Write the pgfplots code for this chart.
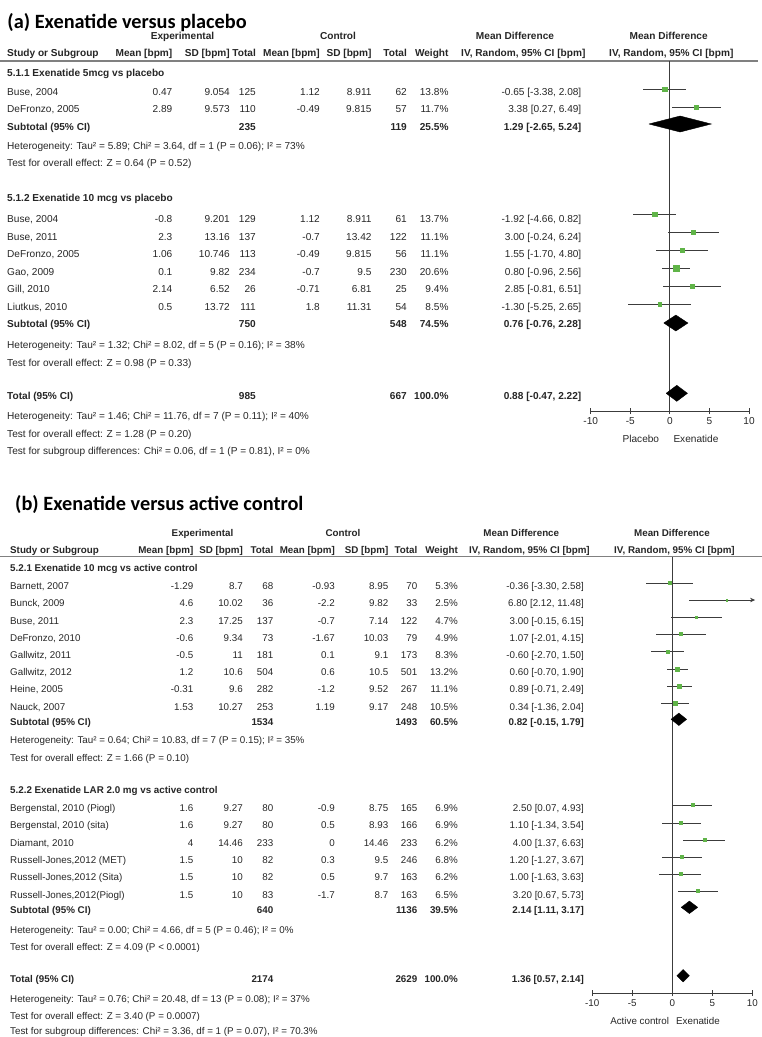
\documentclass[border=0pt]{standalone}
\usepackage{pgfplots}
\pgfplotsset{compat=1.18}
\usepackage{pgfplotstable}
\usepackage{fontspec}
\setmainfont{Liberation Sans}
\newfontfamily\titlefont{Carlito}
\usetikzlibrary{arrows.meta}
\definecolor{mkgreen}{RGB}{96,180,72}
\definecolor{txt}{RGB}{38,38,38}
\definecolor{ln}{RGB}{60,60,60}

% forest data: md lo hi y(row, -px) weight
\pgfplotstableread{
md lo hi y w
-0.65 -3.38 2.08 -89 13.8
3.38 0.27 6.49 -107 11.7
-1.92 -4.66 0.82 -214.3 13.7
3.00 -0.24 6.24 -232.3 11.1
1.55 -1.70 4.80 -250.3 11.1
0.80 -0.96 2.56 -268.3 20.6
2.85 -0.81 6.51 -286 9.4
-1.30 -5.25 2.65 -304 8.5
}\studA

\pgfplotstableread{
md lo hi y w
-0.36 -3.30 2.58 -583 5.3
6.80 2.12 11.48 -600 2.5
3.00 -0.15 6.15 -617 4.7
1.07 -2.01 4.15 -634 4.9
-0.60 -2.70 1.50 -651.7 8.3
0.60 -0.70 1.90 -669 13.2
0.89 -0.71 2.49 -686 11.1
0.34 -1.36 2.04 -703 10.5
2.50 0.07 4.93 -805 6.9
1.10 -1.34 3.54 -823 6.9
4.00 1.37 6.63 -840 6.2
1.20 -1.27 3.67 -857 6.8
1.00 -1.63 3.63 -874 6.2
3.20 0.67 5.73 -891 6.5
}\studB

\newcommand\fa{\fontsize{10.1}{12}\selectfont}
\newcommand\fb{\fontsize{9.8}{12}\selectfont}
\newcommand\cols[8]{\def\cA{#1}\def\cB{#2}\def\cC{#3}\def\cD{#4}\def\cE{#5}\def\cF{#6}\def\cG{#7}\def\cH{#8}}
\newcommand\rowd[9]{%
  \node[R] at (\cA,#1) {#2};\node[R] at (\cB,#1) {#3};\node[R] at (\cC,#1) {#4};%
  \node[R] at (\cD,#1) {#5};\node[R] at (\cE,#1) {#6};\node[R] at (\cF,#1) {#7};%
  \node[R] at (\cG,#1) {#8};\node[R] at (\cH,#1) {#9};}

\tikzset{
  L/.style={anchor=base west, inner sep=0pt, text=txt},
  R/.style={anchor=base east, inner sep=0pt, text=txt},
  C/.style={anchor=base, inner sep=0pt, text=txt},
  rule/.style={draw=black!50, line width=1.2pt}
}

\pgfplotsset{forest/.style={
  scale only axis, clip=false,
  xmin=-10, xmax=10,
  axis x line=bottom, axis y line=none,
  x axis line style={-, draw=ln, line width=0.8pt},
  xtick={-10,-5,0,5,10}, xticklabels={-10,-5,0,5,10},
  tick align=center, major tick length=6pt,
  every tick/.style={draw=ln, line width=0.8pt},
  extra x ticks={0}, extra x tick labels={},
  extra x tick style={grid=major, major grid style={draw=ln, line width=0.8pt}},
  xticklabel style={text=txt},
}}

\begin{document}
\begin{tikzpicture}[x=1pt,y=-1pt]
\useasboundingbox (0,0) rectangle (762,1037);

% ================= Panel (a) =================
\node[L, text=black] at (7.3,28) {\titlefont\bfseries\fontsize{20.3}{24}\selectfont (a) Exenatide versus placebo};
\begin{scope}[every node/.append style={font=\fa}]
\cols{172.5}{230}{256}{320}{371.7}{407}{448.7}{581.5}
\node[C] at (182.5,39.6) {\bfseries Experimental};
\node[C] at (338,39.6) {\bfseries Control};
\node[C] at (515,39.6) {\bfseries Mean Difference};
\node[C] at (668.7,39.6) {\bfseries Mean Difference};
\node[L] at (7,56.9) {\bfseries Study or Subgroup};
\rowd{56.9}{\bfseries Mean [bpm]}{\bfseries SD [bpm]}{\bfseries Total}{\bfseries Mean [bpm]}{\bfseries SD [bpm]}{\bfseries Total}{\bfseries Weight}{}
\node[C] at (523.3,56.9) {\bfseries IV, Random, 95\% CI [bpm]};
\node[C] at (671.3,56.9) {\bfseries IV, Random, 95\% CI [bpm]};
\draw[rule] (0,61) -- (758,61);

\node[L] at (7,76.1) {\bfseries 5.1.1 Exenatide 5mcg vs placebo};
\node[L] at (7,95.3) {Buse, 2004};
\rowd{95.3}{0.47}{9.054}{125}{1.12}{8.911}{62}{13.8\%}{-0.65 [-3.38, 2.08]}
\node[L] at (7,112.9) {DeFronzo, 2005};
\rowd{112.9}{2.89}{9.573}{110}{-0.49}{9.815}{57}{11.7\%}{3.38 [0.27, 6.49]}
\node[L] at (7,130.1) {\bfseries Subtotal (95\% CI)};
\rowd{130.1}{}{}{\bfseries 235}{}{}{\bfseries 119}{\bfseries 25.5\%}{\bfseries 1.29 [-2.65, 5.24]}
\node[L] at (7,149.6) {Heterogeneity: Tau² = 5.89; Chi² = 3.64, df = 1 (P = 0.06); I² = 73\%};
\node[L] at (7,166.3) {Test for overall effect: Z = 0.64 (P = 0.52)};

\node[L] at (7,201.9) {\bfseries 5.1.2 Exenatide 10 mcg vs placebo};
\node[L] at (7,222.6) {Buse, 2004};
\rowd{222.6}{-0.8}{9.201}{129}{1.12}{8.911}{61}{13.7\%}{-1.92 [-4.66, 0.82]}
\node[L] at (7,240.3) {Buse, 2011};
\rowd{240.3}{2.3}{13.16}{137}{-0.7}{13.42}{122}{11.1\%}{3.00 [-0.24, 6.24]}
\node[L] at (7,257.9) {DeFronzo, 2005};
\rowd{257.9}{1.06}{10.746}{113}{-0.49}{9.815}{56}{11.1\%}{1.55 [-1.70, 4.80]}
\node[L] at (7,275.3) {Gao, 2009};
\rowd{275.3}{0.1}{9.82}{234}{-0.7}{9.5}{230}{20.6\%}{0.80 [-0.96, 2.56]}
\node[L] at (7,292.9) {Gill, 2010};
\rowd{292.9}{2.14}{6.52}{26}{-0.71}{6.81}{25}{9.4\%}{2.85 [-0.81, 6.51]}
\node[L] at (7,310.3) {Liutkus, 2010};
\rowd{310.3}{0.5}{13.72}{111}{1.8}{11.31}{54}{8.5\%}{-1.30 [-5.25, 2.65]}
\node[L] at (7,327.3) {\bfseries Subtotal (95\% CI)};
\rowd{327.3}{}{}{\bfseries 750}{}{}{\bfseries 548}{\bfseries 74.5\%}{\bfseries 0.76 [-0.76, 2.28]}
\node[L] at (7,348.6) {Heterogeneity: Tau² = 1.32; Chi² = 8.02, df = 5 (P = 0.16); I² = 38\%};
\node[L] at (7,366.3) {Test for overall effect: Z = 0.98 (P = 0.33)};

\node[L] at (7,399.3) {\bfseries Total (95\% CI)};
\rowd{399.3}{}{}{\bfseries 985}{}{}{\bfseries 667}{\bfseries 100.0\%}{\bfseries 0.88 [-0.47, 2.22]}
\node[L] at (7,419.6) {Heterogeneity: Tau² = 1.46; Chi² = 11.76, df = 7 (P = 0.11); I² = 40\%};
\node[L] at (7,437.3) {Test for overall effect: Z = 1.28 (P = 0.20)};
\node[L] at (7,454.6) {Test for subgroup differences: Chi² = 0.06, df = 1 (P = 0.81), I² = 0\%};

\node[R] at (659.3,442.6) {Placebo};
\node[L] at (673.3,442.6) {Exenatide};
\end{scope}

\begin{axis}[forest, at={(590.7pt,-411pt)}, anchor=south west,
  width=158.3pt, height=350pt, ymin=-411, ymax=-61,
  xticklabel style={font=\fa}]
\addplot[scatter, only marks, mark=square*,
  scatter/use mapped color={draw=mkgreen, fill=mkgreen},
  visualization depends on={0.6*sqrt(\thisrow{w}) \as \msz},
  scatter/@pre marker code/.append style={/tikz/mark size=\msz},
  error bars/.cd, x dir=both, x explicit, error mark=none,
  error bar style={draw=ln, line width=0.8pt}]
  table[x=md, y=y, x error plus expr={min(\thisrow{hi},10)-\thisrow{md}},
        x error minus expr={\thisrow{md}-\thisrow{lo}}] {\studA};
\addplot[fill=black, draw=black] coordinates {(-2.65,-124) (1.29,-116) (5.24,-124) (1.29,-132) (-2.65,-124)};
\addplot[fill=black, draw=black] coordinates {(-0.76,-323) (0.76,-315) (2.28,-323) (0.76,-331) (-0.76,-323)};
\addplot[fill=black, draw=black] coordinates {(-0.47,-393.3) (0.88,-385.3) (2.22,-393.3) (0.88,-401.3) (-0.47,-393.3)};
\end{axis}

% ================= Panel (b) =================
\node[L, text=black] at (15,510.5) {\titlefont\bfseries\fontsize{20.3}{24}\selectfont (b) Exenatide versus active control};
\begin{scope}[every node/.append style={font=\fb}]
\cols{193.5}{243}{273.5}{335}{388.5}{417.5}{458}{584}
\node[C] at (202.5,536.2) {\bfseries Experimental};
\node[C] at (343,536.2) {\bfseries Control};
\node[C] at (521.3,536.2) {\bfseries Mean Difference};
\node[C] at (672,536.2) {\bfseries Mean Difference};
\node[L] at (10,553.5) {\bfseries Study or Subgroup};
\rowd{553.5}{\bfseries Mean [bpm]}{\bfseries SD [bpm]}{\bfseries Total}{\bfseries Mean [bpm]}{\bfseries SD [bpm]}{\bfseries Total}{\bfseries Weight}{}
\node[C] at (529.5,553.5) {\bfseries IV, Random, 95\% CI [bpm]};
\node[C] at (674.5,553.5) {\bfseries IV, Random, 95\% CI [bpm]};
\draw[rule] (0,556.7) -- (762,556.7);

\node[L] at (10,571.2) {\bfseries 5.2.1 Exenatide 10 mcg vs active control};
\node[L] at (10,589) {Barnett, 2007};
\rowd{589}{-1.29}{8.7}{68}{-0.93}{8.95}{70}{5.3\%}{-0.36 [-3.30, 2.58]}
\node[L] at (10,606.5) {Bunck, 2009};
\rowd{606.5}{4.6}{10.02}{36}{-2.2}{9.82}{33}{2.5\%}{6.80 [2.12, 11.48]}
\node[L] at (10,624) {Buse, 2011};
\rowd{624}{2.3}{17.25}{137}{-0.7}{7.14}{122}{4.7\%}{3.00 [-0.15, 6.15]}
\node[L] at (10,641) {DeFronzo, 2010};
\rowd{641}{-0.6}{9.34}{73}{-1.67}{10.03}{79}{4.9\%}{1.07 [-2.01, 4.15]}
\node[L] at (10,658.5) {Gallwitz, 2011};
\rowd{658.5}{-0.5}{11}{181}{0.1}{9.1}{173}{8.3\%}{-0.60 [-2.70, 1.50]}
\node[L] at (10,675.8) {Gallwitz, 2012};
\rowd{675.8}{1.2}{10.6}{504}{0.6}{10.5}{501}{13.2\%}{0.60 [-0.70, 1.90]}
\node[L] at (10,692.8) {Heine, 2005};
\rowd{692.8}{-0.31}{9.6}{282}{-1.2}{9.52}{267}{11.1\%}{0.89 [-0.71, 2.49]}
\node[L] at (10,710.2) {Nauck, 2007};
\rowd{710.2}{1.53}{10.27}{253}{1.19}{9.17}{248}{10.5\%}{0.34 [-1.36, 2.04]}
\node[L] at (10,725) {\bfseries Subtotal (95\% CI)};
\rowd{725}{}{}{\bfseries 1534}{}{}{\bfseries 1493}{\bfseries 60.5\%}{\bfseries 0.82 [-0.15, 1.79]}
\node[L] at (10,743.5) {Heterogeneity: Tau² = 0.64; Chi² = 10.83, df = 7 (P = 0.15); I² = 35\%};
\node[L] at (10,761.2) {Test for overall effect: Z = 1.66 (P = 0.10)};

\node[L] at (10,793.5) {\bfseries 5.2.2 Exenatide LAR 2.0 mg vs active control};
\node[L] at (10,811) {Bergenstal, 2010 (Piogl)};
\rowd{811}{1.6}{9.27}{80}{-0.9}{8.75}{165}{6.9\%}{2.50 [0.07, 4.93]}
\node[L] at (10,828.5) {Bergenstal, 2010 (sita)};
\rowd{828.5}{1.6}{9.27}{80}{0.5}{8.93}{166}{6.9\%}{1.10 [-1.34, 3.54]}
\node[L] at (10,846) {Diamant, 2010};
\rowd{846}{4}{14.46}{233}{0}{14.46}{233}{6.2\%}{4.00 [1.37, 6.63]}
\node[L] at (10,863.5) {Russell-Jones,2012 (MET)};
\rowd{863.5}{1.5}{10}{82}{0.3}{9.5}{246}{6.8\%}{1.20 [-1.27, 3.67]}
\node[L] at (10,880.8) {Russell-Jones,2012 (Sita)};
\rowd{880.8}{1.5}{10}{82}{0.5}{9.7}{163}{6.2\%}{1.00 [-1.63, 3.63]}
\node[L] at (10,898.2) {Russell-Jones,2012(Piogl)};
\rowd{898.2}{1.5}{10}{83}{-1.7}{8.7}{163}{6.5\%}{3.20 [0.67, 5.73]}
\node[L] at (10,913.5) {\bfseries Subtotal (95\% CI)};
\rowd{913.5}{}{}{\bfseries 640}{}{}{\bfseries 1136}{\bfseries 39.5\%}{\bfseries 2.14 [1.11, 3.17]}
\node[L] at (10,933.5) {Heterogeneity: Tau² = 0.00; Chi² = 4.66, df = 5 (P = 0.46); I² = 0\%};
\node[L] at (10,950.8) {Test for overall effect: Z = 4.09 (P < 0.0001)};

\node[L] at (10,982) {\bfseries Total (95\% CI)};
\rowd{982}{}{}{\bfseries 2174}{}{}{\bfseries 2629}{\bfseries 100.0\%}{\bfseries 1.36 [0.57, 2.14]}
\node[L] at (10,1002.3) {Heterogeneity: Tau² = 0.76; Chi² = 20.48, df = 13 (P = 0.08); I² = 37\%};
\node[L] at (10,1019.2) {Test for overall effect: Z = 3.40 (P = 0.0007)};
\node[L] at (10,1034.6) {Test for subgroup differences: Chi² = 3.36, df = 1 (P = 0.07), I² = 70.3\%};

\node[R] at (669.3,1024.2) {Active control};
\node[L] at (676,1024.2) {Exenatide};
\end{scope}

\begin{axis}[forest, at={(592.3pt,-993pt)}, anchor=south west,
  width=160pt, height=436.3pt, ymin=-993, ymax=-556.7,
  xticklabel style={font=\fb}]
\addplot[scatter, only marks, mark=square*,
  scatter/use mapped color={draw=mkgreen, fill=mkgreen},
  visualization depends on={0.6*sqrt(\thisrow{w}) \as \msz},
  scatter/@pre marker code/.append style={/tikz/mark size=\msz},
  error bars/.cd, x dir=both, x explicit, error mark=none,
  error bar style={draw=ln, line width=0.8pt}]
  table[x=md, y=y, x error plus expr={min(\thisrow{hi},10)-\thisrow{md}},
        x error minus expr={\thisrow{md}-\thisrow{lo}}] {\studB};
\addplot[draw=ln, line width=0.8pt, -{Stealth[length=5pt,width=4.5pt]}] coordinates {(9,-600) (10.35,-600)};
\addplot[fill=black, draw=black] coordinates {(-0.15,-719.3) (0.82,-713.1) (1.79,-719.3) (0.82,-725.5) (-0.15,-719.3)};
\addplot[fill=black, draw=black] coordinates {(1.11,-907.3) (2.14,-901.1) (3.17,-907.3) (2.14,-913.5) (1.11,-907.3)};
\addplot[fill=black, draw=black] coordinates {(0.57,-975.7) (1.36,-969.5) (2.14,-975.7) (1.36,-981.9) (0.57,-975.7)};
\end{axis}
\end{tikzpicture}
\end{document}
